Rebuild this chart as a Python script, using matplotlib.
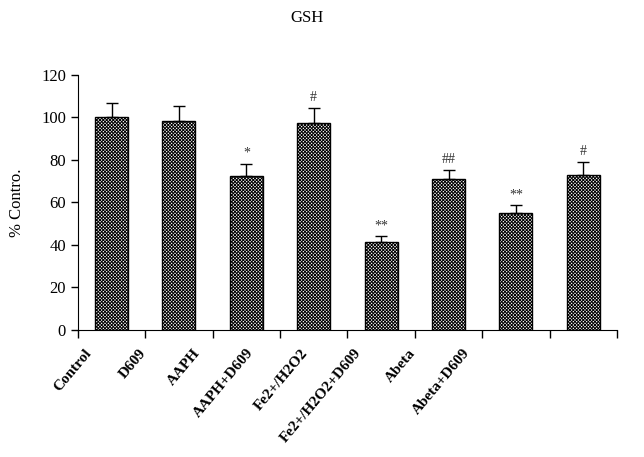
import matplotlib
matplotlib.use("Agg")
import matplotlib.pyplot as plt
import matplotlib.transforms as mtransforms
import numpy as np

plt.rcParams['font.family'] = ['Liberation Serif', 'DejaVu Serif']
plt.rcParams['hatch.linewidth'] = 0.7

# data
groups = ["Control", "D609", "AAPH", "AAPH+D609", "Fe2+/H2O2",
          "Fe2+/H2O2+D609", "Abeta", "Abeta+D609"]
means = [100, 98.5, 72.3, 97.3, 41.3, 70.9, 54.9, 72.8]
errs = [6.7, 6.8, 5.7, 7.0, 2.8, 4.4, 3.8, 6.1]
marks = ["", "", "*", "#", "**", "##", "**", "#"]

fig = plt.figure(figsize=(6.44, 4.57), dpi=100)
ax = fig.add_axes([0.121, 0.278, 0.837, 0.558])

x = np.arange(len(groups))
ax.bar(x, means, width=0.49, color='white', edgecolor='black',
       hatch='x' * 10, linewidth=1.0, zorder=2)
ax.errorbar(x, means, yerr=[np.zeros(len(errs)), errs], fmt='none',
            ecolor='black', elinewidth=1.0, capsize=4.5, capthick=1.0, zorder=3)

for xi, m, e, s in zip(x, means, errs, marks):
    if s:
        ax.annotate(s, (xi, m + e), xytext=(0, 3), textcoords='offset points',
                    ha='center', va='bottom', fontsize=10, color='#333333')

ax.set_xlim(-0.5, len(groups) - 0.5)
ax.set_ylim(0, 120)
ax.set_yticks(np.arange(0, 121, 20))
ax.tick_params(axis='y', direction='out', length=5, width=1, labelsize=12)

# category boundaries as ticks, names placed as rotated text
ax.set_xticks(np.arange(len(groups) + 1) - 0.5)
ax.set_xticklabels([])
ax.tick_params(axis='x', direction='out', length=6, width=1)

trans = mtransforms.blended_transform_factory(ax.transData, ax.transAxes)
for i, g in enumerate(groups):
    ax.text(0.8 * i - 0.4, -0.065, g, transform=trans, rotation=50,
            rotation_mode='anchor', ha='right', va='top',
            fontsize=11, fontweight='bold', color='black')

ax.spines['top'].set_visible(False)
ax.spines['right'].set_visible(False)

ax.set_ylabel('% Contro.', fontsize=12, labelpad=12)
fig.text(0.477, 0.96, 'GSH', ha='center', va='center', fontsize=12)

fig.savefig('out.png', dpi=100)
